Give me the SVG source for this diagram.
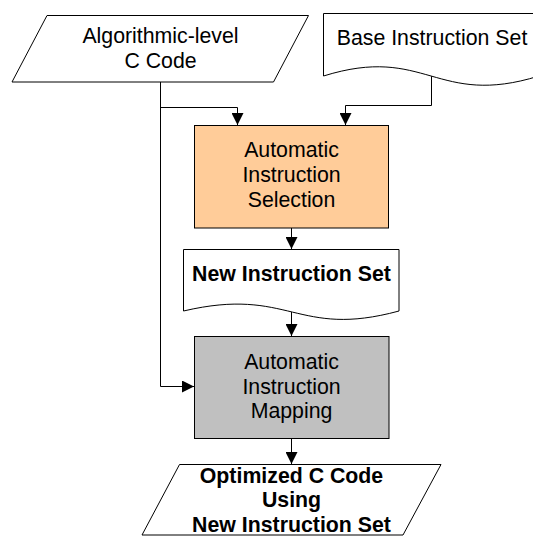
<svg xmlns="http://www.w3.org/2000/svg" width="533" height="536" viewBox="0 0 533 536">
<style>
.shape{stroke:#000;stroke-width:1}
.t{font-family:"Liberation Sans",Arial,sans-serif;font-size:21.3px;fill:#000;text-anchor:middle}
.b{font-weight:bold}
.c{fill:none;stroke:#000;stroke-width:1}
</style>
<defs>
<marker id="arr" markerUnits="userSpaceOnUse" markerWidth="12" markerHeight="12" refX="12" refY="6" orient="auto">
<path d="M0,0 L12,6 L0,12 z" fill="#000"/>
</marker>
</defs>
<rect width="533" height="536" fill="#fff"/>
<g id="connectors">
<path class="c" d="M160.5,82 V386.5 H194" marker-end="url(#arr)"/>
<path class="c" d="M160.5,107.5 H237.5 V125" marker-end="url(#arr)"/>
<path class="c" d="M431.5,76 V105.5 H345.5 V125" marker-end="url(#arr)"/>
<path class="c" d="M291.5,228 V249" marker-end="url(#arr)"/>
<path class="c" d="M291.5,310 V336" marker-end="url(#arr)"/>
<path class="c" d="M291.5,438 V464" marker-end="url(#arr)"/>
</g>
<g id="node-c-code">
<path class="shape" fill="#fff" d="M47,15.5 H308.5 L273.5,82 H12 Z"/>
<text class="t" x="160.5" y="43">Algorithmic-level</text>
<text class="t" x="160.5" y="68">C Code</text>
</g>
<g id="node-base-set">
<path class="shape" fill="#fff" d="M323.5,13.5 H539 V76 C436,108 426,44 323.5,76 Z"/>
<text class="t" x="432" y="45">Base Instruction Set</text>
</g>
<g id="node-selection">
<rect class="shape" fill="#FFCC99" x="194.5" y="125.5" width="194" height="102.5"/>
<text class="t" x="291.5" y="157">Automatic</text>
<text class="t" x="291.5" y="182">Instruction</text>
<text class="t" x="291.5" y="207">Selection</text>
</g>
<g id="node-new-set">
<path class="shape" fill="#fff" d="M183.5,249.5 H399 V311 C296,339 290,286 183.5,311 Z"/>
<text class="t b" x="291.5" y="281">New Instruction Set</text>
</g>
<g id="node-mapping">
<rect class="shape" fill="#C0C0C0" x="194.5" y="336.5" width="194.5" height="102"/>
<text class="t" x="291.5" y="368.5">Automatic</text>
<text class="t" x="291.5" y="393.5">Instruction</text>
<text class="t" x="291.5" y="417.5">Mapping</text>
</g>
<g id="node-optimized">
<path class="shape" fill="#fff" d="M179.5,464.5 H441 L403,535 H142 Z"/>
<text class="t b" x="291.5" y="482.5">Optimized C Code</text>
<text class="t b" x="291.5" y="507">Using</text>
<text class="t b" x="291.5" y="531.5">New Instruction Set</text>
</g>
</svg>
